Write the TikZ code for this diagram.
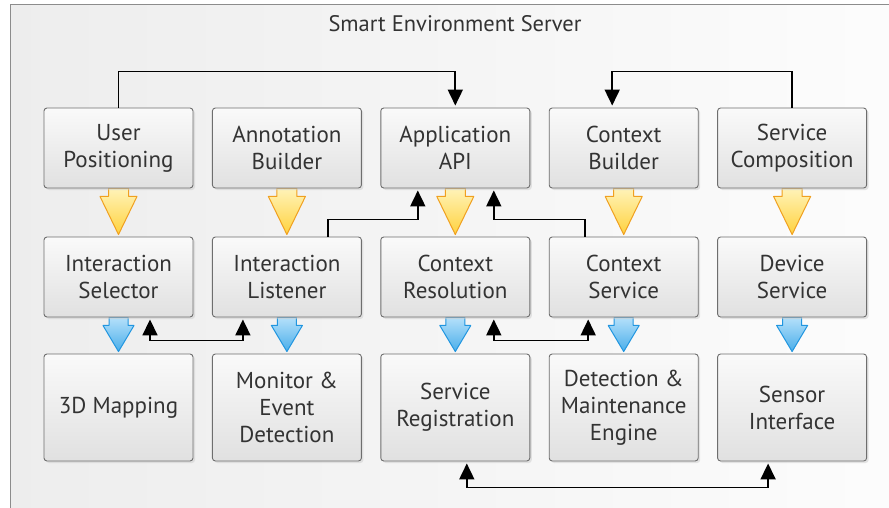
\documentclass[tikz,border=0pt]{standalone}
\usepackage{fontspec}
\setmainfont{PT Sans}
\usetikzlibrary{positioning, shadows, arrows.meta, calc}

\definecolor{textgray}{HTML}{333333}
\definecolor{boxline}{HTML}{6E6E6E}
\definecolor{yeltop}{HTML}{FFF3B8}
\definecolor{yelbot}{HTML}{FFD23E}
\definecolor{yelline}{HTML}{F0A020}
\definecolor{bluetop}{HTML}{B4E0FA}
\definecolor{bluebot}{HTML}{4AAEEA}
\definecolor{blueline}{HTML}{2196E0}

\pgfdeclarelayer{bg}
\pgfdeclarelayer{flow}
\pgfsetlayers{bg,flow,main}

\tikzset{
  module/.style={draw=boxline, line width=0.9pt, rounded corners=3pt,
    top color=black!2, bottom color=black!12,
    minimum width=149pt, minimum height=80pt, align=center,
    text=textgray, font=\fontsize{23}{27}\selectfont,
    drop shadow={shadow xshift=2pt, shadow yshift=-2pt, fill=black!20, opacity=0.5}},
  tall/.style={minimum height=107pt},
  link/.style={line width=1.8pt, shorten >=2pt, -{Triangle[length=16pt,width=15pt]}},
  twolink/.style={line width=1.8pt, shorten >=2pt, shorten <=2pt,
    {Triangle[length=16pt,width=15pt]}-{Triangle[length=16pt,width=15pt]}},
  feedyellow/.style={draw=yelline, line width=1pt, line join=round, top color=yeltop, bottom color=yelbot},
  feedblue/.style={draw=blueline, line width=1pt, line join=round, top color=bluetop, bottom color=bluebot}
}

% fat arrow from #2 down to #3: shaft half width #4, head half width #5
\newcommand{\feed}[5]{%
  \path[#1] let \p1=(#2.south), \p2=(#3.north) in
    (\x1-#4,\y1) -- (\x1+#4,\y1) -- (\x1+#4,\y1-8pt) -- (\x1+#5,\y1-8pt)
    -- (\x1,\y2+2pt) -- (\x1-#5,\y1-8pt) -- (\x1-#4,\y1-8pt) -- cycle;}

\begin{document}
\begin{tikzpicture}[node distance=129pt and 168.4pt, on grid]

  \useasboundingbox (0,0) rectangle (889pt,-508pt);

  % Frame
  \begin{pgfonlayer}{bg}
    \draw[draw=black!45, line width=1pt, left color=black!7, right color=black!1]
      (10pt,-5pt) rectangle (900pt,-520pt);
  \end{pgfonlayer}
  \node[anchor=base, text=textgray, font=\fontsize{22.5}{24}\selectfont] (title)
    at (455pt,-32pt) {Smart Environment Server};

  % Top row
  \node[module] (upos) at (118.5pt,-148pt) {User\\Positioning};
  \node[module, right=of upos] (annot) {Annotation\\Builder};
  \node[module, right=of annot] (appapi) {Application\\API};
  \node[module, right=of appapi] (cbuild) {Context\\Builder};
  \node[module, right=of cbuild] (scomp) {Service\\Composition};

  % Middle row
  \node[module, below=of upos] (isel) {Interaction\\Selector};
  \node[module, below=of annot] (ilisten) {Interaction\\Listener};
  \node[module, below=of appapi] (cres) {Context\\Resolution};
  \node[module, below=of cbuild] (csvc) {Context\\Service};
  \node[module, below=of scomp] (dsvc) {Device\\Service};

  % Bottom row
  \node[module, tall, below=130.5pt of isel] (map3d) {3D Mapping};
  \node[module, tall, below=130.5pt of ilisten] (monitor) {Monitor \&\\Event\\Detection};
  \node[module, tall, below=130.5pt of cres] (sreg) {Service\\Registration};
  \node[module, tall, below=130.5pt of csvc] (detect) {Detection \&\\Maintenance\\Engine};
  \node[module, tall, below=130.5pt of dsvc] (sens) {Sensor\\Interface};

  % Fat arrows
  \begin{pgfonlayer}{flow}
    \feed{feedyellow}{upos}{isel}{10pt}{18.5pt}
    \feed{feedyellow}{annot}{ilisten}{10pt}{18.5pt}
    \feed{feedyellow}{appapi}{cres}{10pt}{18.5pt}
    \feed{feedyellow}{cbuild}{csvc}{10pt}{18.5pt}
    \feed{feedyellow}{scomp}{dsvc}{10pt}{18.5pt}
    \feed{feedblue}{isel}{map3d}{9.5pt}{15.5pt}
    \feed{feedblue}{ilisten}{monitor}{9.5pt}{15.5pt}
    \feed{feedblue}{cres}{sreg}{9.5pt}{15.5pt}
    \feed{feedblue}{csvc}{detect}{9.5pt}{15.5pt}
    \feed{feedblue}{dsvc}{sens}{9.5pt}{15.5pt}
  \end{pgfonlayer}

  % Links
  \draw[link] (upos.north) -- ++(0,36pt) -| (appapi.north);
  \draw[link] (scomp.north) -- ++(0,36pt) -| ([xshift=-11.5pt]cbuild.north);
  \draw[link] ([xshift=41pt]ilisten.north) -- ++(0,17pt) -| ([xshift=-37.5pt]appapi.south);
  \draw[link] ([xshift=-38.5pt]csvc.north) -- ++(0,17pt) -| ([xshift=38.5pt]appapi.south);
  \draw[twolink] ([xshift=31.5pt]isel.south) -- ++(0,-23pt) -| ([xshift=-44pt]ilisten.south);
  \draw[twolink] ([xshift=38.5pt]cres.south) -- ++(0,-23pt) -| ([xshift=-35.5pt]csvc.south);
  \draw[twolink] ([xshift=11.5pt]sreg.south) -- ++(0,-26pt) -| ([xshift=-24pt]sens.south);

\end{tikzpicture}
\end{document}
